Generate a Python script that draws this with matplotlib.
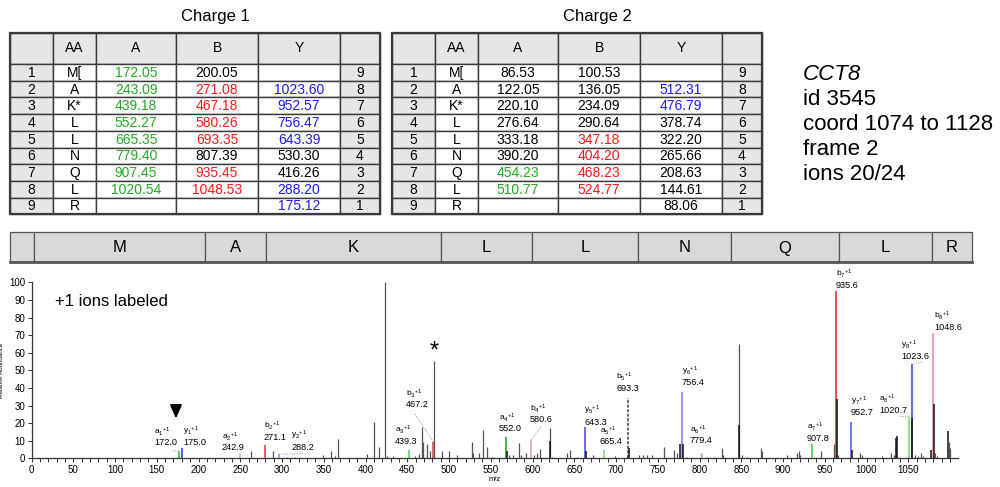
import matplotlib.pyplot as plt
from matplotlib.patches import Rectangle

plt.rcParams['font.family'] = ['Liberation Sans', 'DejaVu Sans']
plt.rcParams['mathtext.default'] = 'regular'

# fragment tables
residues = ['M[', 'A', 'K*', 'L', 'L', 'N', 'Q', 'L', 'R']
c1_a = [172.05, 243.09, 439.18, 552.27, 665.35, 779.40, 907.45, 1020.54, None]
c1_b = [200.05, 271.08, 467.18, 580.26, 693.35, 807.39, 935.45, 1048.53, None]
c1_y = [None, 1023.60, 952.57, 756.47, 643.39, 530.30, 416.26, 288.20, 175.12]
c2_a = [86.53, 122.05, 220.10, 276.64, 333.18, 390.20, 454.23, 510.77, None]
c2_b = [100.53, 136.05, 234.09, 290.64, 347.18, 404.20, 468.23, 524.77, None]
c2_y = [None, 512.31, 476.79, 378.74, 322.20, 265.66, 208.63, 144.61, 88.06]

# rows (1-based) where the ion was matched
c1_a_hit = [1, 2, 3, 4, 5, 6, 7, 8]
c1_b_hit = [2, 3, 4, 5, 7, 8]
c1_y_hit = [2, 3, 4, 5, 8, 9]
c2_a_hit = [7, 8]
c2_b_hit = [5, 6, 7, 8]
c2_y_hit = [2, 3]

info_lines = ['CCT8', 'id 3545', 'coord 1074 to 1128', 'frame 2', 'ions 20/24']

seq_letters = ['M', 'A', 'K', 'L', 'L', 'N', 'Q', 'L', 'R']

# labeled +1 ions
ion_names = ['a1', 'y1', 'a2', 'b2', 'y2', 'a3', 'b3', 'a4', 'b4', 'y5',
             'a5', 'b5', 'y6', 'a6', 'a7', 'b7', 'y7', 'a8', 'y8', 'b8']
ion_mz = [172.0, 175.0, 242.9, 271.1, 288.2, 439.3, 467.2, 552.0, 580.6, 643.3,
          665.4, 693.3, 756.4, 779.4, 907.8, 935.6, 952.7, 1020.7, 1023.6, 1048.6]
ion_int = [4.1, 5.7, 2.8, 7.5, 2.4, 4.7, 9.4, 12.3, 10.4, 17.6,
           4.7, 34.4, 37.5, 3.0, 7.9, 95.2, 20.8, 23.6, 53.4, 71.0]
ion_colors = ['#33bb33', '#2233ee', '#99dd99', '#dd3333', '#8888ee', '#55cc55',
              '#cc4444', '#229922', '#ee9999', '#4444dd', '#77dd77', '#444444',
              '#7777ee', '#aaddaa', '#44cc44', '#dd2222', '#5555ee', '#66dd66',
              '#3344dd', '#ee8888']

# other peaks (axis units)
peak_x = [262.5, 288.8, 305.6, 316, 349.5, 358.7, 363.5, 367.5, 401.4, 410.2,
          415.8, 423.7, 426, 433.3, 459.6, 464.4, 467.7, 469.3, 473.3, 477.2,
          482.4, 492, 500, 509.2, 527.9, 529, 535.5, 540.3, 545, 551,
          552.3, 572.2, 577, 583.4, 585.8, 591.8, 601.8, 605.8, 609, 621,
          623.4, 641.7, 645, 653, 672, 699.2, 712.8, 728, 732.7, 736.7,
          742.7, 757.5, 769.5, 772.7, 785.4, 801.4, 808.6, 817.4, 827.3, 828.5,
          846.7, 850.5, 857.3, 873.7, 875.3, 904.4, 916.4, 918.8, 920.4, 945,
          961.4, 966.2, 992.2, 994.6, 1019, 1029.8, 1033, 1058, 1061.3, 1064.9,
          1067.3, 1082, 1084, 1098.5, 1100]
peak_int = [4, 4.1, 1, 1, 1.9, 4.1, 1.5, 11, 2.2, 20.8,
            6.6, 100, 1.5, 1.5, 1.5, 2.5, 18, 9.4, 8, 4,
            55.5, 4, 4, 2, 9.4, 3, 3, 16, 6.6, 1,
            1, 2, 2, 8.9, 2, 3, 2, 3, 5.3, 17,
            1, 3, 4.7, 1, 2, 1.5, 1.5, 2, 2, 2,
            2, 6.6, 5, 3, 1, 3, 1, 1, 6, 2,
            64.8, 2, 1, 6, 4, 2, 3, 4.3, 2, 4.3,
            8, 2, 3, 2, 1.5, 3, 2, 2, 1.5, 3,
            1.5, 3, 1.5, 9, 6]
dark_x = [569.8, 621, 663.5, 716, 776.6, 780, 846.7, 964.3, 982, 1035.3,
          1036.9, 1054.5, 1077.5, 1080.5, 1097.3]
dark_int = [4, 10, 4, 6, 8, 8, 19, 33.7, 5, 11.4,
            12.5, 23, 5, 30.7, 15.7]

MZ_SCALE = 1.03  # labeled m/z sits on a stretched axis

fig = plt.figure(figsize=(10, 4.87), dpi=100)

# pixel-space overlay for tables, text and the sequence bar
bg = fig.add_axes([0, 0, 1, 1])
bg.set_xlim(0, 1000)
bg.set_ylim(487, 0)
bg.axis('off')

GREEN, RED, BLUE = '#22aa22', '#ff1a1a', '#1a1aff'
CELL_GRAY = '#e6e6e6'
EDGE = '#3a3a3a'


def draw_table(x0, title, a_vals, b_vals, y_vals, a_hit, b_hit, y_hit):
    widths = [43, 43, 80, 82, 82, 40]
    top, head_h, row_h = 33, 31, 16.7
    xs = [x0]
    for w in widths:
        xs.append(xs[-1] + w)
    total_w = xs[-1] - x0
    bg.text(x0 + total_w * 0.555, 17, title, fontsize=12, ha='center', va='center')

    # header row
    for c, lab in enumerate(['', 'AA', 'A', 'B', 'Y', '']):
        bg.add_patch(Rectangle((xs[c], top), widths[c], head_h, facecolor=CELL_GRAY,
                               edgecolor=EDGE, lw=1.0))
        bg.text(xs[c] + widths[c] / 2, top + head_h / 2, lab, fontsize=10,
                ha='center', va='center')

    n = len(residues)
    for r in range(n):
        y = top + head_h + r * row_h
        cells = [str(r + 1), residues[r],
                 a_vals[r], b_vals[r], y_vals[r], str(n - r)]
        colors = ['k', 'k',
                  GREEN if (r + 1) in a_hit else 'k',
                  RED if (r + 1) in b_hit else 'k',
                  BLUE if (r + 1) in y_hit else 'k', 'k']
        for c in range(6):
            face = CELL_GRAY if c in (0, 5) else 'white'
            bg.add_patch(Rectangle((xs[c], y), widths[c], row_h, facecolor=face,
                                   edgecolor=EDGE, lw=1.0))
            val = cells[c]
            if val is None:
                continue
            if not isinstance(val, str):
                val = f'{val:.2f}'
            bg.text(xs[c] + widths[c] / 2, y + row_h / 2 + 0.5, val, fontsize=10,
                    ha='center', va='center', color=colors[c])
    bg.add_patch(Rectangle((x0, top), total_w, head_h + n * row_h, facecolor='none',
                           edgecolor=EDGE, lw=1.6))


draw_table(10, 'Charge 1', c1_a, c1_b, c1_y, c1_a_hit, c1_b_hit, c1_y_hit)
draw_table(392, 'Charge 2', c2_a, c2_b, c2_y, c2_a_hit, c2_b_hit, c2_y_hit)

# peptide info
for i, line in enumerate(info_lines):
    bg.text(803, 80 + i * 25, line, fontsize=16, ha='left', va='baseline',
            style='italic' if i == 0 else 'normal')

# sequence bar
seq_edges = [10, 34, 205, 266, 441, 532, 638, 731, 839, 932, 972]
bar_top, bar_bot = 232, 262
for i in range(len(seq_edges) - 1):
    x1, x2 = seq_edges[i], seq_edges[i + 1]
    bg.add_patch(Rectangle((x1, bar_top), x2 - x1, bar_bot - bar_top,
                           facecolor='#d9d9d9', edgecolor='#555555', lw=0.9))
    if i > 0:
        bg.text((x1 + x2) / 2, (bar_top + bar_bot) / 2 + 1, seq_letters[i - 1],
                fontsize=12, ha='center', va='center')
bg.plot([seq_edges[0], seq_edges[-1]], [bar_bot, bar_bot], color='#555555', lw=2)

# spectrum
ax = fig.add_axes([31.5 / 1000, 1 - 458.3 / 487, (958.4 - 31.5) / 1000, 176 / 487])
ax.patch.set_alpha(0)
ax.set_xlim(0, 1110)
ax.set_ylim(0, 100)

ax.vlines(peak_x, 0, peak_int, color='#555555', lw=0.9)
ax.vlines(dark_x, 0, dark_int, color='#111111', lw=1.1, zorder=3)

ion_x = [m * MZ_SCALE for m in ion_mz]
for x, h, name, col in zip(ion_x, ion_int, ion_names, ion_colors):
    ls = (0, (2, 1)) if name == 'b5' else '-'
    ax.vlines(x, 0, h, color=col, lw=1.1, linestyles=ls, zorder=2)

# label anchors (left edge of text, centre of the m/z line)
label_pos = {
    'a1': (146.7, 8.7), 'y1': (181.4, 8.7), 'a2': (228.1, 5.9),
    'b2': (278.4, 12.1), 'y2': (310.8, 6.4), 'a3': (435.3, 9.8),
    'b3': (448.5, 30.3), 'a4': (559.9, 16.7), 'b4': (597.0, 21.8),
    'y5': (661.7, 20.6), 'a5': (680.8, 9.3), 'b5': (700.0, 39.9),
    'y6': (779.0, 42.8), 'a6': (788.6, 9.9), 'a7': (928.7, 11.4),
    'b7': (963.5, 98.4), 'y7': (981.4, 26.2), 'a8': (1015.0, 27.4),
    'y8': (1041.3, 57.6), 'b8': (1080.8, 74.6),
}
for name, mz in zip(ion_names, ion_mz):
    lx, ly = label_pos[name]
    ax.text(lx, ly, f'{mz:.1f}', fontsize=6.6, ha='left', va='center', clip_on=False)
    ax.text(lx, ly + 6.4, f'${name[0]}_{{{name[1:]}}}{{}}^{{+1}}$', fontsize=6,
            ha='left', va='center', clip_on=False)

# dotted leaders from labels to their peaks
leaders = {'b3': (459.3, 25.2), 'b4': (610.2, 17.8), 'a8': (1040.1, 24.0),
           'y8': (1066.4, 54.7), 'a1': (168.3, 4.3), 'y2': (325.0, 2.6)}
for name, (sx, sy) in leaders.items():
    i = ion_names.index(name)
    ax.plot([sx, ion_x[i]], [sy, ion_int[i]], color='#999999', lw=0.6,
            ls=(0, (1.5, 1.5)), zorder=1)

ax.text(28.1, 89, '+1 ions labeled', fontsize=12, ha='left', va='center')
ax.text(482.4, 60.5, '*', fontsize=17, ha='center', va='center')
ax.annotate('', xy=(173, 21), xytext=(173, 30.5),
            arrowprops=dict(arrowstyle='-|>,head_width=0.35,head_length=0.8',
                            color='k', lw=1.4))

for side in ('top', 'right'):
    ax.spines[side].set_visible(False)
for side in ('left', 'bottom'):
    ax.spines[side].set_color('#333333')
    ax.spines[side].set_linewidth(0.9)
ax.set_xticks(range(0, 1051, 50))
ax.set_xticks(range(0, 1101, 10), minor=True)
ax.set_yticks(range(0, 101, 10))
ax.tick_params(which='both', direction='out', length=3, width=0.7, color='#333333',
               labelsize=7, pad=1.5)
ax.set_xlabel('m/z', fontsize=5.5, labelpad=1)
ax.set_ylabel('Relative Abundance', fontsize=4.5, labelpad=4)

fig.savefig('out.png', dpi=100)
